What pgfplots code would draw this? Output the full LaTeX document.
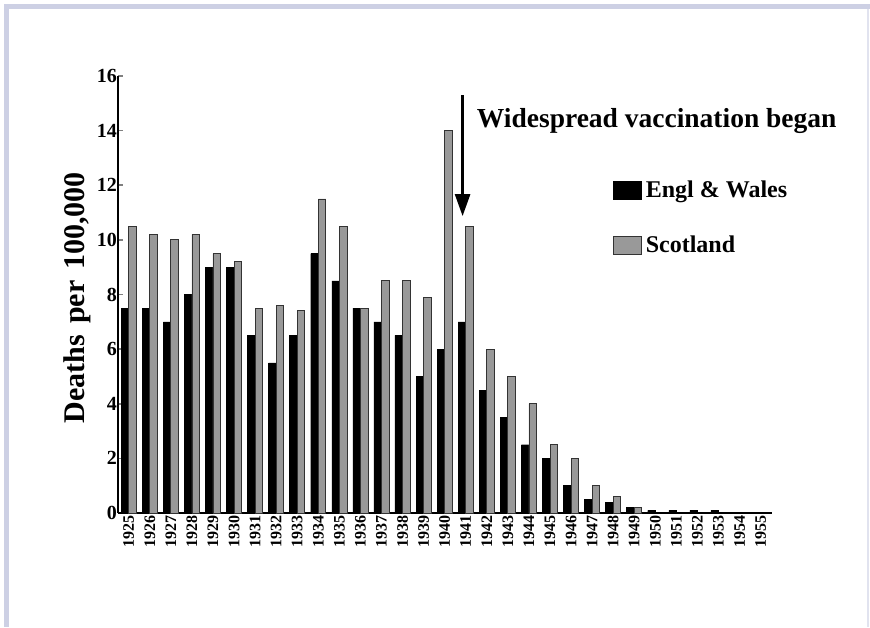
\documentclass[border=0pt]{standalone}
\usepackage{fontspec}
\setmainfont{Liberation Serif}
\usepackage{pgfplots}
\pgfplotsset{compat=1.18}
\usetikzlibrary{arrows.meta}
\definecolor{frame}{RGB}{205,208,228}
\definecolor{scot}{RGB}{153,153,153}

\begin{document}
\begin{tikzpicture}
\useasboundingbox (0,0) rectangle (870pt,627pt);
\fill[frame] (4pt,618pt) rectangle (870pt,623pt);
\fill[frame] (4pt,0pt) rectangle (9pt,623pt);
\fill[frame!60] (867pt,0pt) rectangle (869pt,618pt);
\begin{axis}[at={(118pt,114pt)}, anchor=south west, scale only axis,
  width=654pt, height=437pt, xmin=-0.51, xmax=30.54, ymin=0, ymax=16,
  axis x line*=bottom, axis y line*=left, axis line style={line width=2.2pt},
  separate axis lines, x axis line style={-}, y axis line style={-},
  ybar, bar width=0.36,
  ytick={0,2,...,16}, ytick style={line width=1.6pt}, tickwidth=4.5pt,
  ytick pos=left, tick align=inside,
  xtick={0,...,30}, xticklabels={1925,1926,1927,1928,1929,1930,1931,1932,
    1933,1934,1935,1936,1937,1938,1939,1940,1941,1942,1943,1944,1945,1946,
    1947,1948,1949,1950,1951,1952,1953,1954,1955},
  xtick style={draw=none},
  x tick label style={rotate=90, anchor=east, inner xsep=2pt,
    font=\fontsize{16}{16}\selectfont\bfseries},
  y tick label style={font=\fontsize{20}{20}\selectfont\bfseries, inner xsep=1pt},
  /pgf/number format/assume math mode=true,
  ylabel={Deaths\hspace{11pt}per\hspace{11pt}100,000},
  ylabel style={at={(rel axis cs:-0.062,0.493)}, anchor=center,
    font=\fontsize{30}{30}\selectfont\bfseries},
  legend style={at={(rel axis cs:0.752,0.769)}, anchor=north west,
    draw=none, fill=none, row sep=33pt,
    nodes={inner xsep=4pt},
    font=\fontsize{24}{24}\selectfont\bfseries},
  legend cell align=left,
  legend image code/.code={\draw[#1, line width=0.8pt] (0pt,-9pt) rectangle (28pt,9pt);},
  clip=false]
\addplot[fill=black, draw=black, bar shift=-0.18] coordinates {
  (0,7.5) (1,7.5) (2,7.0) (3,8.0) (4,9.0) (5,9.0) (6,6.5) (7,5.5) (8,6.5)
  (9,9.5) (10,8.5) (11,7.5) (12,7.0) (13,6.5) (14,5.0) (15,6.0) (16,7.0)
  (17,4.5) (18,3.5) (19,2.5) (20,2.0) (21,1.0) (22,0.5) (23,0.4) (24,0.2)
  (25,0.1) (26,0.1) (27,0.1) (28,0.1)};
\addlegendentry{Engl \& Wales}
\addplot[fill=scot, draw=black!80, line width=0.8pt, bar shift=0.18] coordinates {
  (0,10.5) (1,10.2) (2,10.0) (3,10.2) (4,9.5) (5,9.2) (6,7.5) (7,7.6) (8,7.4)
  (9,11.5) (10,10.5) (11,7.5) (12,8.5) (13,8.5) (14,7.9) (15,14.0) (16,10.5)
  (17,6.0) (18,5.0) (19,4.0) (20,2.5) (21,2.0) (22,1.0) (23,0.6) (24,0.2)};
\addlegendentry{Scotland}
\draw[line width=2.6pt, -{Triangle[length=22pt, width=15pt]}]
  (axis cs:15.85,15.3) -- (axis cs:15.85,10.87);
\node[anchor=base west, inner sep=0pt, font=\fontsize{27.5}{27.5}\selectfont\bfseries]
  at (axis cs:16.52,14.1) {Widespread vaccination began};
\end{axis}
\end{tikzpicture}
\end{document}
